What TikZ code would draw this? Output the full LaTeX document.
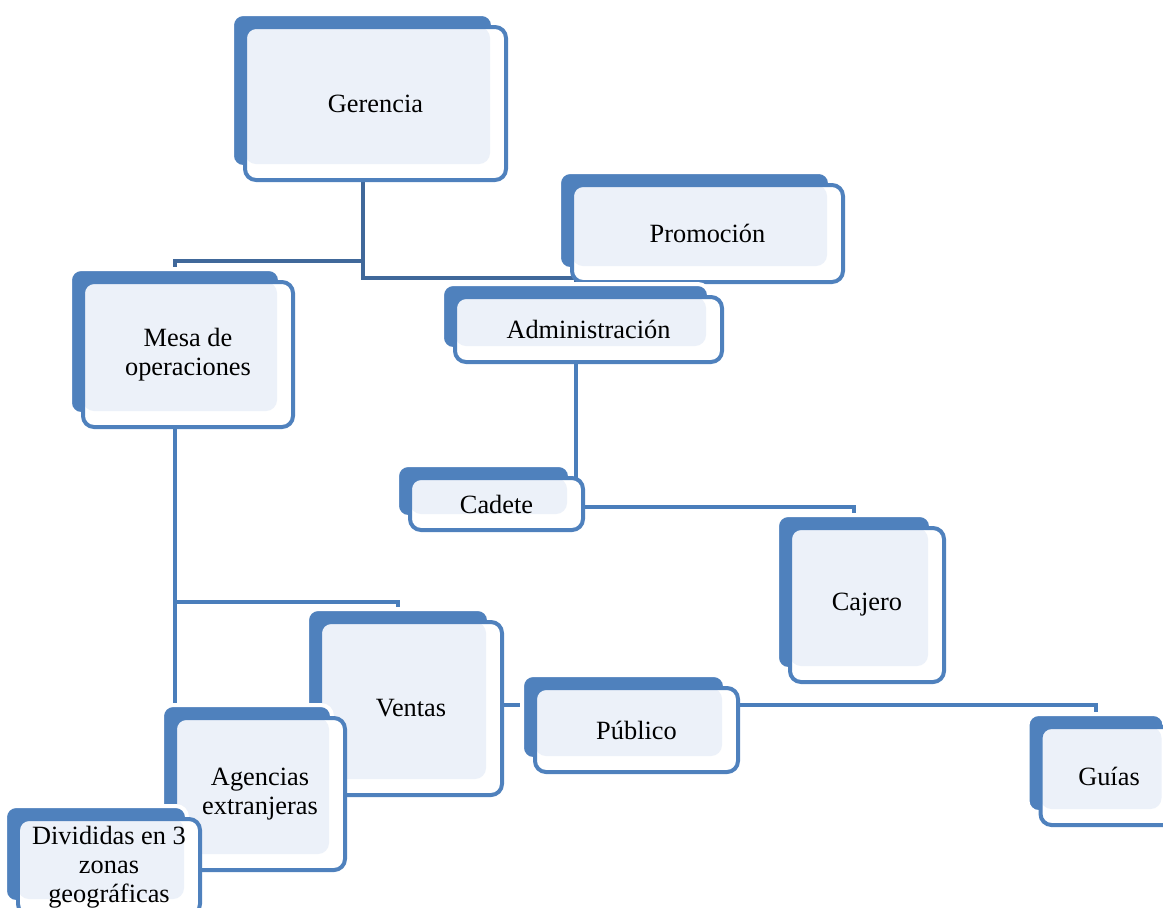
\documentclass[tikz,border=0pt]{standalone}
\usepackage{fontspec}
\setmainfont{Liberation Serif}
\usetikzlibrary{backgrounds}

\definecolor{boxblue}{RGB}{79,129,189}
\definecolor{boxfill}{RGB}{236,241,249}
\definecolor{lineblue}{RGB}{74,126,187}
\definecolor{linedark}{RGB}{64,104,154}

\begin{document}
\begin{tikzpicture}[
    x=0.02cm, y=-0.02cm,
    font=\fontsize{15}{16.5}\selectfont,
    orgbox/.style 2 args={
        rectangle, rounded corners=0.22cm,
        draw=boxblue, line width=0.08cm, fill=white,
        minimum width=#1*0.02cm, minimum height=#2*0.02cm,
        align=center, inner sep=2pt,
        preaction={fill=boxblue, draw=white, line width=0.08cm,
            transform canvas={shift={(-0.26cm,0.26cm)}}},
        path picture={\fill[boxfill] (path picture bounding box.north west)
            rectangle ([shift={(-0.32cm,0.32cm)}]path picture bounding box.south east);}
    },
    line/.style={draw=lineblue, line width=0.08cm},
    topline/.style={line, draw=linedark}
]
\useasboundingbox (0,0) rectangle (1163,907);

% -------------------------
% 1. Top: GERENCIA
% -------------------------
\node[orgbox={261}{153}] (Gerencia) at (375.5,103.5) {Gerencia};

% -------------------------
% 2. Second level: PROMOCION, ADMINISTRACION, MESA
% -------------------------
\node[orgbox={271}{97}] (Promocion) at (707.5,233.5) {Promoción};
\node[orgbox={267}{65}] (Administracion) at (588.5,329.5) {Administración};
\node[orgbox={210}{145}] (Mesa) at (188,354.5) {Mesa de\\operaciones};

% -------------------------
% 3. Under Administracion: CADETE & CAJERO
% -------------------------
\node[orgbox={173}{52}] (Cadete) at (496.5,504) {Cadete};
\node[orgbox={154}{154}] (Cajero) at (867,605) {Cajero};

% -------------------------
% 4. Under Mesa: VENTAS, PUBLICO, GUIAS, AGENCIAS
% -------------------------
\node[orgbox={182}{173}] (Ventas) at (411,708.5) {Ventas};
\node[orgbox={203}{84}] (Publico) at (636.5,730) {Público};
\node[orgbox={137}{98}] (Guias) at (1109,776) {Guías};
\node[orgbox={170}{152}] (Agencias) at (260,794) {Agencias\\extranjeras};
\node[orgbox={182}{96}] (Divididas) at (109,867) {Divididas en 3\\zonas\\geográficas};

% -------------------------
% CONNECTORS (behind the boxes)
% -------------------------
\begin{scope}[on background layer]
% Gerencia -> Mesa / Administracion
\draw[topline] ([xshift=-0.26cm]Gerencia.south) -- ++(0,79) -| ([xshift=-0.26cm]Mesa.north);
\draw[topline] ([xshift=-0.26cm]Gerencia.south) -- ++(0,96) -| ([xshift=-0.26cm]Administracion.north);

% Administracion -> Cajero
\draw[line] ([xshift=-0.26cm]Administracion.south) -- ++(0,143) -| ([xshift=-0.26cm]Cajero.north);

% Mesa -> Ventas / Guias
\draw[line] ([xshift=-0.26cm]Mesa.south) -- ++(0,173) -| ([xshift=-0.26cm]Ventas.north);
\draw[line] ([xshift=-0.26cm]Mesa.south) -- ++(0,276) -| ([xshift=-0.26cm]Guias.north);
\end{scope}

\end{tikzpicture}
\end{document}
